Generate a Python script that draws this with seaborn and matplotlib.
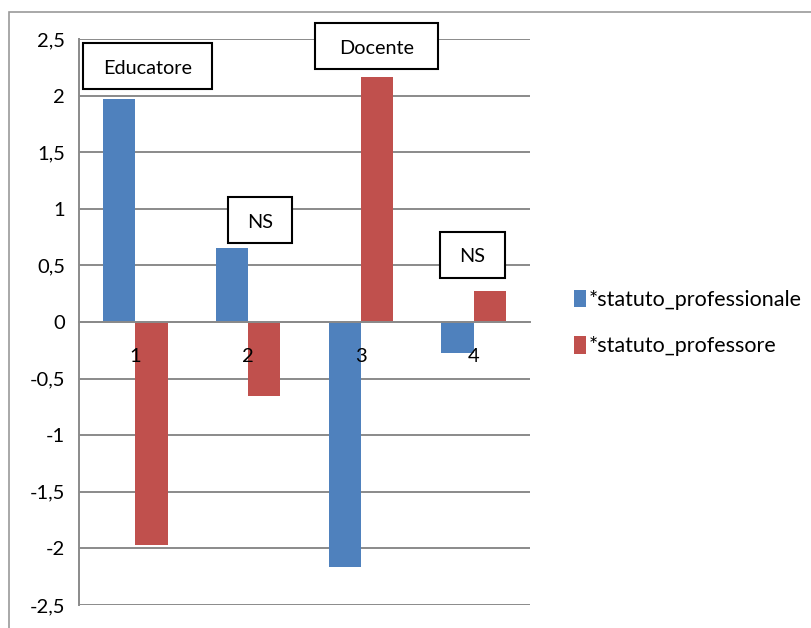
import matplotlib
matplotlib.use("Agg")
import matplotlib.pyplot as plt
import seaborn as sns
import pandas as pd
from matplotlib.patches import Rectangle

categories = ["1", "2", "3", "4"]
series_names = ["*statuto_professionale", "*statuto_professore"]
professionale = [1.97, 0.65, -2.16, -0.27]
professore = [-1.97, -0.65, 2.16, 0.27]
y_ticks = [-2.5, -2, -1.5, -1, -0.5, 0, 0.5, 1, 1.5, 2, 2.5]
y_tick_labels = ["-2,5", "-2", "-1,5", "-1", "-0,5", "0", "0,5", "1", "1,5", "2", "2,5"]
colors = ["#4F81BD", "#C0504D"]

df = pd.DataFrame({
    "cat": categories * 2,
    "val": professionale + professore,
    "serie": [series_names[0]] * 4 + [series_names[1]] * 4,
})

sns.set_style("white")
plt.rcParams["font.family"] = ["Lato", "DejaVu Sans"]
plt.rcParams["text.color"] = "black"
plt.rcParams["xtick.color"] = "black"
plt.rcParams["ytick.color"] = "black"

fig = plt.figure(figsize=(8.11, 6.28), dpi=100)
fig.patches.append(Rectangle((9 / 811, -0.1), 1.2, (628 - 12) / 628 + 0.1,
                             transform=fig.transFigure, fill=False,
                             edgecolor="#9a9a9a", linewidth=1.2))
ax = fig.add_axes([79 / 811, 1 - 605 / 628, (530 - 79) / 811, (605 - 39) / 628])

sns.barplot(data=df, x="cat", y="val", hue="serie", palette=colors,
            width=0.57, ax=ax, legend=True, saturation=1, edgecolor="none")

ax.set_xlim(-0.5, 3.5)
ax.set_ylim(-2.5, 2.5)
ax.set_xlabel("")
ax.set_ylabel("")

ax.set_yticks(y_ticks)
ax.set_yticklabels(y_tick_labels, fontsize=14.5)
ax.yaxis.grid(True, color="#8a8a8a", linewidth=1.4)
ax.set_axisbelow(True)
ax.xaxis.set_zorder(3)
ax.tick_params(axis="y", length=5, width=1.2, color="#8a8a8a", labelcolor="black",
               direction="out", pad=5)

for s in ["top", "right"]:
    ax.spines[s].set_visible(False)
ax.spines["left"].set_color("#8a8a8a")
ax.spines["left"].set_linewidth(1.4)
ax.spines["bottom"].set_position(("data", 0))
ax.spines["bottom"].set_color("#8a8a8a")
ax.spines["bottom"].set_linewidth(1.4)

ax.set_xticks([0, 1, 2, 3])
ax.set_xticklabels(categories, fontsize=14.5)
ax.set_xticks([-0.5, 0.5, 1.5, 2.5, 3.5], minor=True)
ax.tick_params(axis="x", which="major", length=0, pad=19, labelcolor="black")
ax.tick_params(axis="x", which="minor", length=6, width=1.4, color="#8a8a8a", direction="out")

# annotation boxes
boxes = [
    ("Educatore", 0.107, 2.26, 1.144),
    ("Docente", 2.139, 2.44, 1.09),
    ("NS", 1.105, 0.90, 0.57),
    ("NS", 2.99, 0.596, 0.57),
]
bh = 0.406
for label, cx, cy, w in boxes:
    ax.add_patch(Rectangle((cx - w / 2, cy - bh / 2), w, bh, facecolor="white",
                           edgecolor="black", linewidth=1.5, zorder=5, clip_on=False))
    ax.text(cx, cy - 0.02, label, ha="center", va="center", fontsize=14.3,
            color="black", zorder=6)

handles, labels = ax.get_legend_handles_labels()
leg = ax.legend(handles, labels, loc="center left", bbox_to_anchor=(555 / 811, 1 - 323 / 628),
                bbox_transform=fig.transFigure, frameon=False, fontsize=15.5,
                handlelength=0.55, handleheight=0.85, handletextpad=0.1, labelspacing=1.25)
for t in leg.get_texts():
    t.set_color("black")

fig.savefig("out.png", dpi=100)
